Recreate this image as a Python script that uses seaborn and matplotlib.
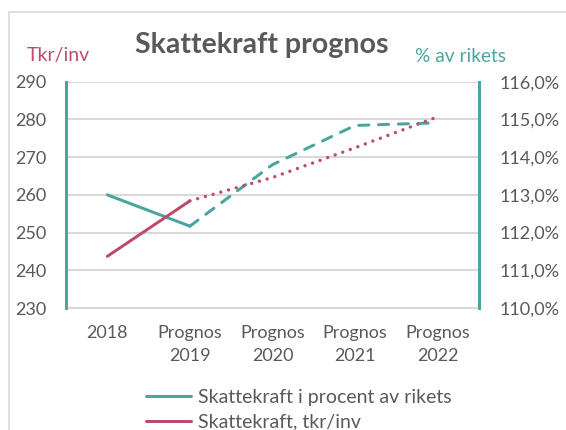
import numpy as np
import pandas as pd
import matplotlib
matplotlib.use("Agg")
import matplotlib.pyplot as plt
import seaborn as sns
from matplotlib.ticker import FuncFormatter, FixedLocator
from matplotlib.lines import Line2D
from matplotlib.patches import Rectangle

# Data
categories = ["2018", "Prognos\n2019", "Prognos\n2020", "Prognos\n2021", "Prognos\n2022"]
tkr_per_inv = [243.7, 258.4, 264.6, 272.5, 280.7]        # left axis, tkr/inv
pct_of_nation = [113.0, 112.17, 113.8, 114.84, 114.91]   # right axis, % av rikets
tkr_ticks = [230, 240, 250, 260, 270, 280, 290]
pct_ticks = [110, 111, 112, 113, 114, 115, 116]

TEAL = "#4AA59F"
RED = "#BE4A6C"
GRAY = "#595959"
GRID = "#D9D9D9"

sns.set_theme(style="white")
plt.rcParams["font.family"] = ["Lato", "DejaVu Sans"]

df = pd.DataFrame({"pos": range(len(categories)), "tkr": tkr_per_inv, "pct": pct_of_nation})
hist = df.iloc[:2]   # actual value 2018 -> 2019
prog = df.iloc[1:]   # forecast part

fig = plt.figure(figsize=(5.66, 4.30), dpi=100)
fig.patches.append(Rectangle((9 / 566, -0.1), 1.2, 1 - 12 / 430 + 0.1, transform=fig.transFigure,
                             fill=False, edgecolor=GRID, linewidth=1.2))

# host axes holds the teal series + grid, the twin (drawn on top) holds the red one
ax_pct = fig.add_axes([66 / 566, 1 - 308 / 430, (479 - 66) / 566, (308 - 81.7) / 430])
ax_tkr = ax_pct.twinx()
ax_tkr.yaxis.tick_left()
ax_pct.yaxis.tick_right()

lw = 3.0 * 0.72
sns.lineplot(data=hist, x="pos", y="pct", ax=ax_pct, color=TEAL, linewidth=lw,
             solid_capstyle="round")
sns.lineplot(data=prog, x="pos", y="pct", ax=ax_pct, color=TEAL, linewidth=lw,
             linestyle=(0, (3.4, 3.2)), dash_capstyle="round")
sns.lineplot(data=hist, x="pos", y="tkr", ax=ax_tkr, color=RED, linewidth=lw,
             solid_capstyle="round")
sns.lineplot(data=prog, x="pos", y="tkr", ax=ax_tkr, color=RED, linewidth=3.4 * 0.72,
             linestyle=(0, (0.01, 2.35)), dash_capstyle="round")

ax_pct.set_ylim(pct_ticks[0], pct_ticks[-1])
ax_tkr.set_ylim(tkr_ticks[0], tkr_ticks[-1])
ax_pct.set_xlim(-0.5, len(categories) - 0.5)

ax_pct.set_yticks(pct_ticks)
ax_pct.yaxis.set_major_formatter(FuncFormatter(lambda v, p: f"{v:.1f}%".replace(".", ",")))
ax_tkr.set_yticks(tkr_ticks)

ax_pct.set_xticks(df["pos"])
ax_pct.set_xticklabels(categories, linespacing=1.55)
ax_pct.xaxis.set_minor_locator(FixedLocator(np.arange(-0.5, len(categories), 1.0)))
ax_pct.tick_params(axis="x", which="major", length=0, pad=12, labelsize=13, colors=GRAY)
ax_pct.tick_params(axis="x", which="minor", length=5, width=1.2, color=GRID, direction="out")
ax_pct.tick_params(axis="y", length=0, pad=15, labelsize=13, colors=GRAY)
ax_tkr.tick_params(axis="y", length=0, pad=14, labelsize=13, colors=GRAY)
ax_tkr.tick_params(axis="x", length=0)

ax_pct.grid(axis="y", color=GRID, linewidth=1.5)
ax_pct.set_axisbelow(True)
ax_pct.set_xlabel("")
ax_pct.set_ylabel("")
ax_tkr.set_ylabel("")

for a in (ax_pct, ax_tkr):
    for side in ("top", "bottom"):
        a.spines[side].set_visible(False)
    a.spines["left"].set_color(TEAL)
    a.spines["right"].set_color(TEAL)
    a.spines["left"].set_linewidth(2)
    a.spines["right"].set_linewidth(2)
ax_pct.spines["bottom"].set_visible(True)
ax_pct.spines["bottom"].set_color(GRID)
ax_pct.spines["bottom"].set_linewidth(1.5)

fig.text(262 / 566, 1 - 45 / 430, "Skattekraft prognos", ha="center", va="center",
         fontsize=20.5, fontweight="bold", color=GRAY)
fig.text(27 / 566, 1 - 55 / 430, "Tkr/inv", ha="left", va="center", fontsize=14, color=RED)
fig.text(415 / 566, 1 - 57 / 430, "% av rikets", ha="left", va="center", fontsize=13.8, color=TEAL)

handles = [Line2D([], [], color=TEAL, linewidth=lw, solid_capstyle="round"),
           Line2D([], [], color=RED, linewidth=lw, solid_capstyle="round")]
fig.legend(handles, ["Skattekraft i procent av rikets", "Skattekraft, tkr/inv"],
           loc="upper left", bbox_to_anchor=(138 / 566, 1 - 381 / 430), frameon=False,
           fontsize=14, labelcolor=GRAY, handlelength=2.3, handletextpad=0.4,
           labelspacing=0.4, borderaxespad=0)

fig.savefig("out.png", dpi=100)
